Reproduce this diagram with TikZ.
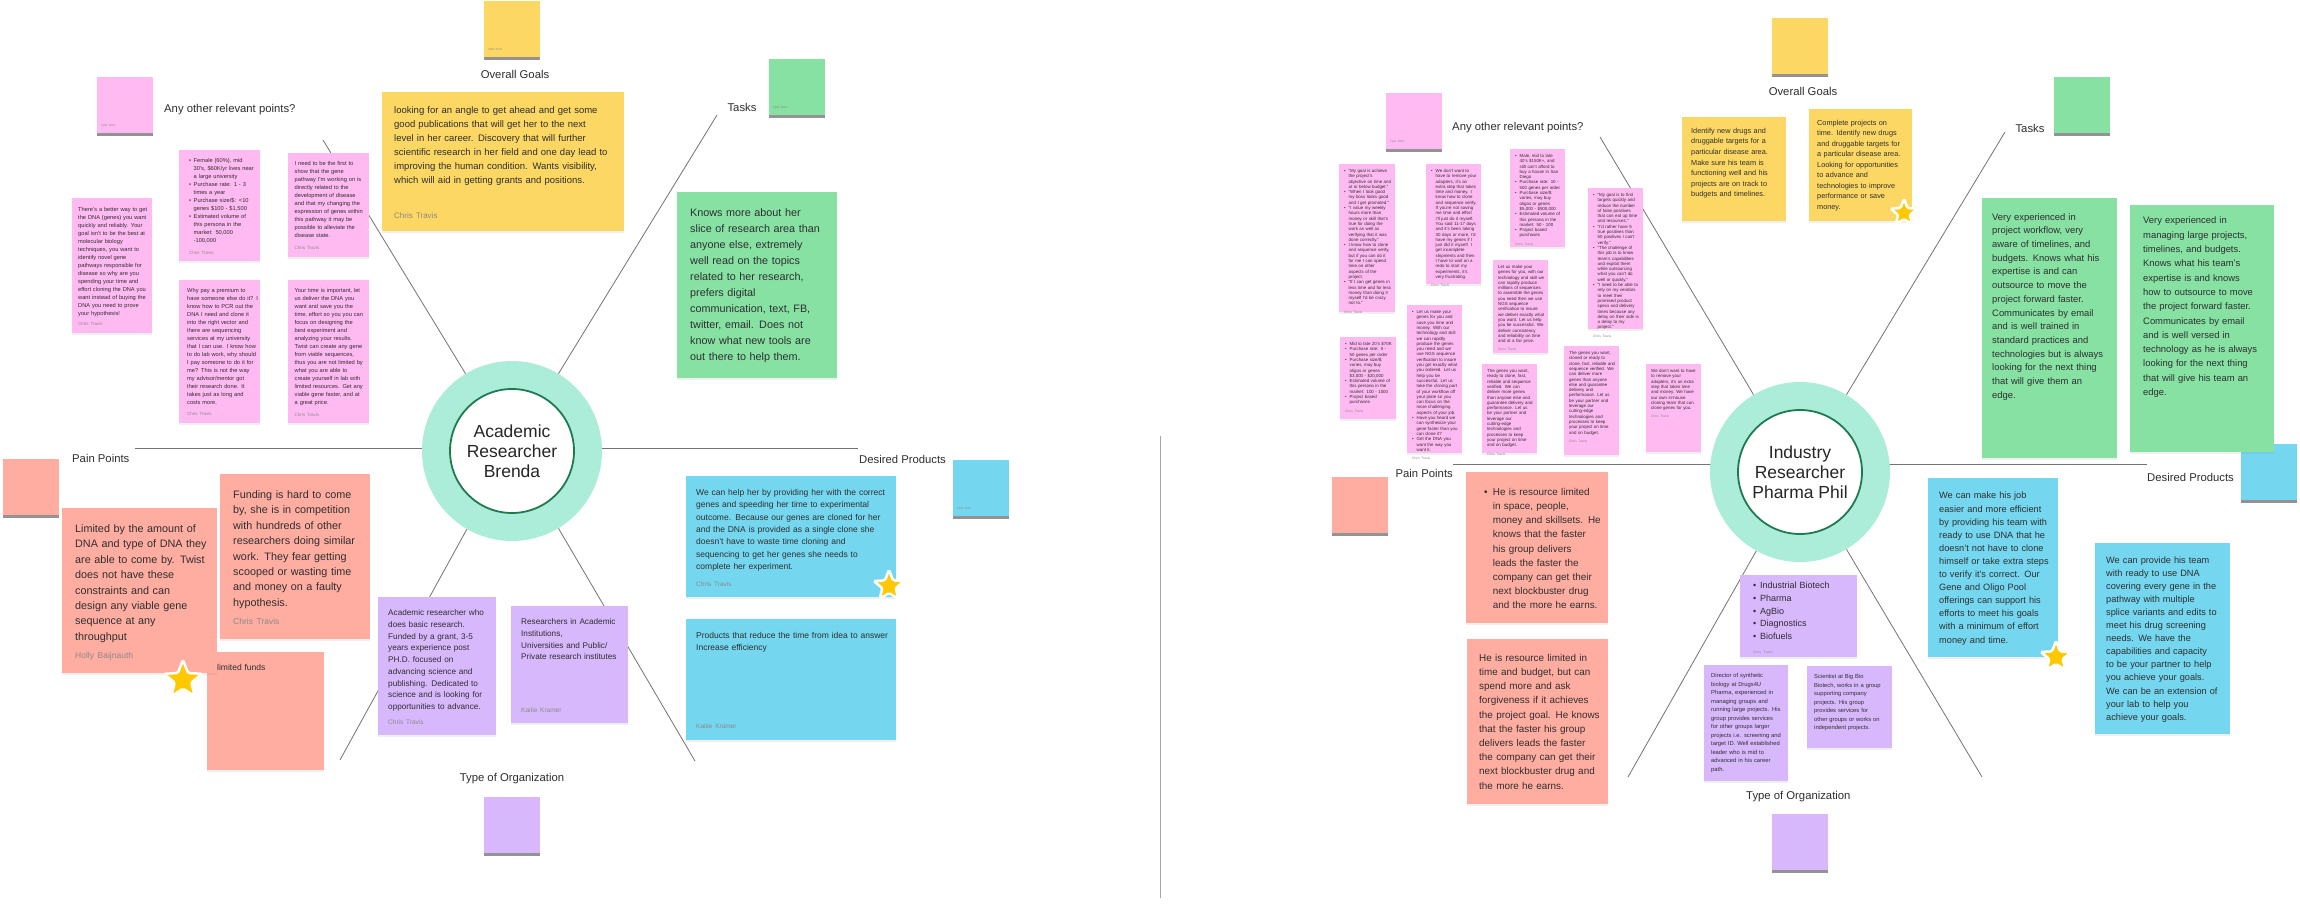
\documentclass[tikz,border=0pt]{standalone}
\usepackage{fontspec}
\setmainfont{Liberation Sans}
\usetikzlibrary{shapes.geometric,shadows,backgrounds}

\definecolor{stickypink}{HTML}{FFBAF1}
\definecolor{stickyyellow}{HTML}{FDD764}
\definecolor{stickygreen}{HTML}{86E1A3}
\definecolor{stickyred}{HTML}{FFADA1}
\definecolor{stickypurple}{HTML}{D8B8FD}
\definecolor{stickyblue}{HTML}{74D7EF}
\definecolor{ringteal}{HTML}{ABEDD8}
\definecolor{ringedge}{HTML}{1F7A50}
\definecolor{inktext}{HTML}{2E2E2E}
\definecolor{authorgray}{HTML}{8A8A8A}
\definecolor{starfill}{HTML}{FFC800}

\newcommand\fs[2]{\fontsize{#1}{#2}\selectfont}
\newcommand\byline[3]{\\[#1pt]{\color{authorgray}\fs{#2}{#2}#3}}
\newcommand\tinyby[2]{\par\vspace{#1pt}{\color{authorgray}\fs{#2}{#2}Chris Travis}}
\newcommand\bul[1]{\makebox[#1pt][l]{\textbullet}}
\newcommand\ind[1]{\hspace*{#1pt}}
\newcommand\tb{\hangindent=4.5pt\hangafter=1\makebox[4.5pt][l]{\textbullet}}

\tikzset{
  sticky/.code n args={4}{%
    \pgfmathsetmacro\stickyd{#2-#4}%
    \tikzset{anchor=north west, inner sep=0pt, align=left, text width=#1pt,
      text height=#4pt, text depth/.expanded=\stickyd pt, text=inktext,
      execute at begin node={\leftskip=#3pt\relax}}},
  wrapright/.style={execute at begin node={\rightskip=#1pt plus 1fil\relax}},
  notebase/.style={drop shadow={shadow xshift=0pt, shadow yshift=-1.5pt, opacity=0.12}},
  pinknote/.style={notebase, fill=stickypink},
  yellownote/.style={notebase, fill=stickyyellow},
  greennote/.style={notebase, fill=stickygreen},
  rednote/.style={notebase, fill=stickyred},
  purplenote/.style={notebase, fill=stickypurple},
  bluenote/.style={notebase, fill=stickyblue},
  swatch/.style={anchor=north west, minimum size=56pt, inner sep=0pt, fill=#1,
    drop shadow={shadow xshift=0pt, shadow yshift=-2.5pt, opacity=0.6, fill=black!70}},
  swatchname/.style={anchor=south west, inner sep=0pt, font=\fs{3}{3}, text=authorgray},
  heading/.style={inner sep=0pt, font=\fs{11.3}{13}, text=inktext},
  ring/.style={circle, minimum size=180pt, inner sep=0pt, fill=ringteal},
  core/.style={circle, minimum size=124pt, inner sep=0pt, fill=white, draw=ringedge,
    line width=1.8pt, align=center, font=\fs{17.5}{20}, text=black!85},
  spoke/.style={draw=black!55, line width=0.8pt},
  favstar/.style={star, star points=5, star point ratio=2.3, minimum size=#1,
    inner sep=0pt, fill=starfill, draw=white, line width=2.5pt, rounded corners=1.5pt,
    drop shadow={shadow xshift=0pt, shadow yshift=-1pt, opacity=0.15}},
}

\begin{document}
\begin{tikzpicture}[x=1pt,y=-1pt]
\useasboundingbox (0,0) rectangle (2300,912);

% ---------------- Academic Researcher Brenda ----------------
\node[ring] (brenda) at (512,451) {};

\node[swatch=stickypink] (anysq) at (97,77) {};
\node[swatchname] at ([shift={(4,-6)}]anysq.south west) {Tyler Soric};
\node[heading, anchor=west] (anylabel) at (164,110) {Any other relevant points?};
\node[swatch=stickyyellow] (goalsq) at (484,1) {};
\node[swatchname] at ([shift={(4,-6)}]goalsq.south west) {Tyler Soric};
\node[heading] (goallabel) at (515,74) {Overall Goals};
\node[swatch=stickygreen] (tasksq) at (769,59) {};
\node[swatchname] at ([shift={(4,-6)}]tasksq.south west) {Tyler Soric};
\node[heading] (tasklabel) at (742,107) {Tasks};
\node[swatch=stickyred] (painsq) at (3,459) {};
\node[heading, anchor=west] (painlabel) at (72,458) {Pain Points};
\node[swatch=stickyblue] (prodsq) at (953,460) {};
\node[swatchname] at ([shift={(4,-6)}]prodsq.south west) {Tyler Soric};
\node[heading, anchor=west] (prodlabel) at (859,459) {Desired Products};
\node[swatch=stickypurple] (orgsq) at (484,797) {};
\node[heading] (orglabel) at (512,779) {Type of Organization};

% other points
\node[pinknote, sticky={80}{135}{6}{13}, font=\fs{5.7}{8}] (brendaA) at (72,198)
  {There's a better way to get\\the DNA (genes) you want\\quickly and reliably. Your\\goal isn't to be the best at\\molecular biology\\techniques, you want to\\identify novel gene\\pathways responsible for\\disease so why are you\\spending your time and\\effort cloning the DNA you\\want instead of buying the\\DNA you need to prove\\your hypothesis!\byline{2.7}{4.5}{Chris Travis}};
\node[pinknote, sticky={81}{111}{10}{12.4}, font=\fs{5.7}{8}] (brendaB) at (179,150)
  {\bul{4.5}Female (60\%), mid\\\ind{4.5}30's, \$60K/yr lives near\\\ind{4.5}a large university\\\bul{4.5}Purchase rate: 1 - 3\\\ind{4.5}times a year\\\bul{4.5}Purchase size/\$: <10\\\ind{4.5}genes \$100 - \$1,500\\\bul{4.5}Estimated volume of\\\ind{4.5}this persona in the\\\ind{4.5}market: 50,000\\\ind{4.5}-100,000\byline{3.7}{4.5}{Chris Travis}};
\node[pinknote, sticky={81}{143}{8}{12.4}, font=\fs{5.7}{8}] (brendaC) at (179,280)
  {Why pay a premium to\\have someone else do it? I\\know how to PCR out the\\DNA I need and clone it\\into the right vector and\\there are sequencing\\services at my university\\that I can use. I know how\\to do lab work, why should\\I pay someone to do it for\\me? This is not the way\\my advisor/mentor got\\their research done. It\\takes just as long and\\costs more.\byline{3}{4.5}{Chris Travis}};
\node[pinknote, sticky={81}{104}{6.5}{12.7}, font=\fs{5.7}{8}] (brendaD) at (288,153)
  {I need to be the first to\\show that the gene\\pathway I'm working on is\\directly related to the\\development of disease\\and that my changing the\\expression of genes within\\this pathway it may be\\possible to alleviate the\\disease state.\byline{3.3}{4.5}{Chris Travis}};
\node[pinknote, sticky={81}{143}{6.5}{12.4}, font=\fs{5.7}{8}] (brendaE) at (288,280)
  {Your time is important, let\\us deliver the DNA you\\want and save you the\\time, effort so you you can\\focus on designing the\\best experiment and\\analyzing your results.\\Twist can create any gene\\from viable sequences,\\thus you are not limited by\\what you are able to\\create yourself in lab with\\limited resources. Get any\\viable gene faster, and at\\a great price.\byline{3.4}{4.5}{Chris Travis}};

% goals and tasks
\node[yellownote, sticky={242}{139}{12}{21}, font=\fs{9.5}{14}] (brendagoal) at (382,92)
  {looking for an angle to get ahead and get some\\good publications that will get her to the next\\level in her career. Discovery that will further\\scientific research in her field and one day lead to\\improving the human condition. Wants visibility,\\which will aid in getting grants and positions.\byline{21}{8}{Chris Travis}};
\node[greennote, sticky={160}{186}{13}{24}, font=\fs{10.8}{16}] (brendatask) at (677,192)
  {Knows more about her\\slice of research area than\\anyone else, extremely\\well read on the topics\\related to her research,\\prefers digital\\communication, text, FB,\\twitter, email. Does not\\know what new tools are\\out there to help them.};

% pain points
\node[rednote, sticky={117}{118}{10}{18.5}, font=\fs{8.5}{11}] (brendafunds) at (207,652)
  {limited funds};
\node[rednote, sticky={155}{165}{13}{24.3}, font=\fs{10.8}{15.4}] (brendalimit) at (62,508)
  {Limited by the amount of\\DNA and type of DNA they\\are able to come by. Twist\\does not have these\\constraints and can\\design any viable gene\\sequence at any\\throughput\byline{2.9}{8.5}{Holly Baijnauth}};
\node[rednote, sticky={150}{165}{13}{24.2}, font=\fs{10.8}{15.4}] (brendafunding) at (220,474)
  {Funding is hard to come\\by, she is in competition\\with hundreds of other\\researchers doing similar\\work. They fear getting\\scooped or wasting time\\and money on a faulty\\hypothesis.\byline{2.9}{8.5}{Chris Travis}};

% type of organization
\node[purplenote, sticky={118}{138}{10}{18.6}, font=\fs{8.2}{11.7}] (brendaorgA) at (378,597)
  {Academic researcher who\\does basic research.\\Funded by a grant, 3-5\\years experience post\\PH.D. focused on\\advancing science and\\publishing. Dedicated to\\science and is looking for\\opportunities to advance.\byline{3.3}{6.5}{Chris Travis}};
\node[purplenote, sticky={117}{117}{10}{18.5}, font=\fs{8.2}{11.7}] (brendaorgB) at (511,606)
  {Researchers in Academic\\Institutions,\\Universities and Public/\\Private research institutes\byline{40.9}{6.5}{Kaitie Kramer}};

% desired products
\node[bluenote, sticky={210}{121}{10}{19.4}, font=\fs{8.5}{12.3}] (brendaprodA) at (686,476)
  {We can help her by providing her with the correct\\genes and speeding her time to experimental\\outcome. Because our genes are cloned for her\\and the DNA is provided as a single clone she\\doesn't have to waste time cloning and\\sequencing to get her genes she needs to\\complete her experiment.\byline{5}{6.5}{Chris Travis}};
\node[bluenote, sticky={210}{121}{10}{19.4}, font=\fs{8.5}{12.3}] (brendaprodB) at (686,619)
  {Products that reduce the time from idea to answer\\Increase efficiency\byline{65.7}{6.5}{Kaitie Kramer}};

\node[core] (brendacore) at (512,451) {Academic\\Researcher\\Brenda};
\node[favstar=40pt] (brendastarA) at (183,680) {};
\node[favstar=32pt] (brendastarB) at (889,586) {};

% ---------------- Industry Researcher Pharma Phil ----------------
\node[ring] (phil) at (1800,472) {};

\node[swatch=stickypink] (anysq2) at (1386,93) {};
\node[swatchname] at ([shift={(4,-6)}]anysq2.south west) {Tyler Soric};
\node[heading, anchor=west] (anylabel2) at (1452,128) {Any other relevant points?};
\node[swatch=stickyyellow] (goalsq2) at (1772,18) {};
\node[heading] (goallabel2) at (1803,91) {Overall Goals};
\node[swatch=stickygreen] (tasksq2) at (2054,77) {};
\node[heading] (tasklabel2) at (2030,128) {Tasks};
\node[swatch=stickyred] (painsq2) at (1332,477) {};
\node[heading, anchor=east] (painlabel2) at (1453,473) {Pain Points};
\node[swatch=stickyblue] (prodsq2) at (2241,444) {};
\node[heading, anchor=west] (prodlabel2) at (2147,477) {Desired Products};
\node[swatch=stickypurple] (orgsq2) at (1772,814) {};
\node[heading, anchor=west] (orglabel2) at (1746,797) {Type of Organization};

% other points
\node[pinknote, sticky={56}{148}{5}{8.3}, wrapright=4, font=\fs{4.4}{5.3}] (philA) at (1339,164)
  {\tb ``My goal is achieve the project's objective on time and at or below budget.''\par
   \tb ``When I look good my boss looks good and I get promoted.''\par
   \tb ``I value my weekly hours more than money or skill that's true for doing the work as well as verifying that it was done correctly.''\par
   \tb I know how to clone and sequence verify, but if you can do it for me I can spend time on other aspects of the project.\par
   \tb ``If I can get genes in less time and for less money than doing it myself I'd be crazy not to.''\tinyby{3}{3.3}};
\node[pinknote, sticky={55}{120}{5}{8.3}, wrapright=4, font=\fs{4.4}{5.3}] (philB) at (1426,164)
  {\tb We don't want to have to remove your adapters, it's an extra step that takes time and money. I know how to clone and sequence verify. If you're not saving me time and effort I'll just do it myself. You said 11-17 days and it's been taking 30 days or more, I'd have my genes if I just did it myself. I get incomplete shipments and then I have to wait on a redo to start my experiments, it's very frustrating.\tinyby{3}{3.3}};
\node[pinknote, sticky={55}{98}{5}{8.3}, wrapright=4, font=\fs{4.4}{5.3}] (philC) at (1510,149)
  {\tb Male, mid to late 40's \$150K+, and still can't afford to buy a house in San Diego\par
   \tb Purchase rate: 10 - 500 genes per order\par
   \tb Purchase size/\$: varies, may buy oligos or genes \$5,000 - \$500,000\par
   \tb Estimated volume of this persona in the market: 50 - 100\par
   \tb Project based purchases\tinyby{3}{3.3}};
\node[pinknote, sticky={55}{141}{5}{8.3}, wrapright=4, font=\fs{4.4}{5.3}] (philD) at (1588,188)
  {\tb ``My goal is to find targets quickly and reduce the number of false positives that can eat up time and resources.''\par
   \tb ``I'd rather have 5 true positives than 50 positives I can't verify.''\par
   \tb ``The challenge of this job is to know team's capabilities and exploit them while outsourcing what you can't do well or quickly.''\par
   \tb ``I need to be able to rely on my vendors to meet their promised product specs and delivery times because any delay on their side is a delay to my project.''\tinyby{3}{3.3}};
\node[pinknote, sticky={55}{93}{5}{8.3}, wrapright=4, font=\fs{4.4}{5.3}] (philE) at (1493,260)
  {Let us make your genes for you, with our technology and skill we can rapidly produce millions of sequences to assemble the genes you need then we use NGS sequence verification to insure we deliver exactly what you want. Let us help you be successful. We deliver consistency and reliability on time and at a fair price.\tinyby{3}{3.3}};
\node[pinknote, sticky={56}{82}{5}{8.3}, wrapright=4, font=\fs{4.4}{5.3}] (philF) at (1340,337)
  {\tb Mid to late 20's \$70K\par
   \tb Purchase rate: 5 - 50 genes per order\par
   \tb Purchase size/\$: varies, may buy oligos or genes \$3,000 - \$20,000\par
   \tb Estimated volume of this persona in the market: 100 - 1000\par
   \tb Project based purchases\tinyby{3}{3.3}};
\node[pinknote, sticky={55}{148}{5}{8.3}, wrapright=4, font=\fs{4.4}{5.3}] (philG) at (1407,305)
  {\tb Let us make your genes for you and save you time and money. With our technology and skill we can rapidly produce the genes you need and we use NGS sequence verification to insure you get exactly what you ordered. Let us help you be successful. Let us take the cloning part of your workflow off your plate so you can focus on the more challenging aspects of your job.\par
   \tb Have you heard we can synthesize your gene faster than you can clone it?\par
   \tb Get the DNA you want the way you want it.\tinyby{3}{3.3}};
\node[pinknote, sticky={55}{89}{5}{8.3}, wrapright=4, font=\fs{4.4}{5.3}] (philH) at (1482,364)
  {The genes you want, ready to clone, fast, reliable and sequence verified. We can deliver more genes than anyone else and guarantee delivery and performance. Let us be your partner and leverage our cutting-edge technologies and processes to keep your project on time and on budget.\tinyby{3}{3.3}};
\node[pinknote, sticky={55}{109}{5}{8.3}, wrapright=4, font=\fs{4.4}{5.3}] (philI) at (1564,346)
  {The genes you want, cloned or ready to clone, fast, reliable and sequence verified. We can deliver more genes than anyone else and guarantee delivery and performance. Let us be your partner and leverage our cutting-edge technologies and processes to keep your project on time and on budget.\tinyby{3}{3.3}};
\node[pinknote, sticky={55}{88}{5}{8.3}, wrapright=4, font=\fs{4.4}{5.3}] (philJ) at (1646,364)
  {We don't want to have to remove your adapters, it's an extra step that takes time and money. We have our own in-house cloning team that can clone genes for you.\tinyby{3}{3.3}};

% goals and tasks
\node[yellownote, sticky={104}{104}{9}{16.1}, font=\fs{7.3}{10.6}] (philgoalA) at (1682,117)
  {Identify new drugs and\\druggable targets for a\\particular disease area.\\Make sure his team is\\functioning well and his\\projects are on track to\\budgets and timelines.};
\node[yellownote, sticky={103}{112}{8}{16.2}, font=\fs{7.3}{10.5}] (philgoalB) at (1809,109)
  {Complete projects on\\time. Identify new drugs\\and druggable targets for\\a particular disease area.\\Looking for opportunities\\to advance and\\technologies to improve\\performance or save\\money.};
\node[greennote, sticky={135}{260}{10}{21.9}, font=\fs{9.4}{13.7}] (philtaskA) at (1982,198)
  {Very experienced in\\project workflow, very\\aware of timelines, and\\budgets. Knows what his\\expertise is and can\\outsource to move the\\project forward faster.\\Communicates by email\\and is well trained in\\standard practices and\\technologies but is always\\looking for the next thing\\that will give them an\\edge.};
\node[greennote, sticky={144}{247}{13}{18.8}, font=\fs{9.4}{14.3}] (philtaskB) at (2130,205)
  {Very experienced in\\managing large projects,\\timelines, and budgets.\\Knows what his team's\\expertise is and knows\\how to outsource to move\\the project forward faster.\\Communicates by email\\and is well versed in\\technology as he is always\\looking for the next thing\\that will give his team an\\edge.};

% pain points
\node[rednote, sticky={142}{151}{18}{23}, font=\fs{9.9}{14.2}] (philpainA) at (1466,472)
  {\bul{8.7}He is resource limited\\\ind{8.7}in space, people,\\\ind{8.7}money and skillsets. He\\\ind{8.7}knows that the faster\\\ind{8.7}his group delivers\\\ind{8.7}leads the faster the\\\ind{8.7}company can get their\\\ind{8.7}next blockbuster drug\\\ind{8.7}and the more he earns.};
\node[rednote, sticky={141}{165}{12}{22}, font=\fs{9.9}{14.2}] (philpainB) at (1467,639)
  {He is resource limited in\\time and budget, but can\\spend more and ask\\forgiveness if it achieves\\the project goal. He knows\\that the faster his group\\delivers leads the faster\\the company can get their\\next blockbuster drug and\\the more he earns.};

% type of organization
\node[purplenote, sticky={117}{82}{13}{13.7}, font=\fs{9}{12.6}] (philorgA) at (1740,575)
  {\bul{7}Industrial Biotech\\\bul{7}Pharma\\\bul{7}AgBio\\\bul{7}Diagnostics\\\bul{7}Biofuels\byline{1.4}{3.3}{Chris Travis}};
\node[purplenote, sticky={84}{116}{7}{12.7}, font=\fs{5.8}{8.5}] (philorgB) at (1704,665)
  {Director of synthetic\\biology at Drugs4U\\Pharma, experienced in\\managing groups and\\running large projects. His\\group provides services\\for other groups larger\\projects i.e. screening and\\target ID. Well established\\leader who is mid to\\advanced in his career\\path.};
\node[purplenote, sticky={85}{82}{7}{12.7}, font=\fs{5.8}{8.5}] (philorgC) at (1807,666)
  {Scientist at Big Bio\\Biotech, works in a group\\supporting company\\projects. His group\\provides services for\\other groups or works on\\independent projects.};

% desired products
\node[bluenote, sticky={130}{179}{11}{20.7}, font=\fs{9.2}{13.1}] (philprodA) at (1928,478)
  {We can make his job\\easier and more efficient\\by providing his team with\\ready to use DNA that he\\doesn't not have to clone\\himself or take extra steps\\to verify it's correct. Our\\Gene and Oligo Pool\\offerings can support his\\efforts to meet his goals\\with a minimum of effort\\money and time.};
\node[bluenote, sticky={135}{191}{11}{19.8}, font=\fs{9.2}{13.1}] (philprodB) at (2095,543)
  {We can provide his team\\with ready to use DNA\\covering every gene in the\\pathway with multiple\\splice variants and edits to\\meet his drug screening\\needs. We have the\\capabilities and capacity\\to be your partner to help\\you achieve your goals.\\We can be an extension of\\your lab to help you\\achieve your goals.};

\node[core] (philcore) at (1800,472) {Industry\\Researcher\\Pharma Phil};
\node[favstar=28pt] (philstarA) at (1904,213) {};
\node[favstar=32pt] (philstarB) at (2056,657) {};

% ---------------- connectors ----------------
\coordinate (anyend) at (323,140);
\coordinate (taskend) at (717,115);
\coordinate (painend) at (135,448);
\coordinate (prodend) at (858,448);
\coordinate (orgleft) at (340,760);
\coordinate (orgright) at (695,761);
\coordinate (anyend2) at (1600,137);
\coordinate (taskend2) at (2005,132);
\coordinate (painend2) at (1453,464);
\coordinate (prodend2) at (2147,464);
\coordinate (orgleft2) at (1628,777);
\coordinate (orgright2) at (1982,777);
\coordinate (splittop) at (1160,436);
\coordinate (splitbottom) at (1160,898);

\begin{scope}[on background layer]
\fill[white] (0,0) rectangle (2300,912);
\draw[spoke] (anyend) -- (brenda.121);
\draw[spoke] (taskend) -- (brenda.59);
\draw[spoke] (orgleft) -- (brenda.-120);
\draw[spoke] (orgright) -- (brenda.-59);
\draw[spoke] (painend) -- (prodend);
\draw[spoke] (anyend2) -- (phil.121);
\draw[spoke] (taskend2) -- (phil.59);
\draw[spoke] (orgleft2) -- (phil.-119);
\draw[spoke] (orgright2) -- (phil.-59);
\draw[spoke] (painend2) -- (prodend2);
\draw[spoke, draw=black!35] (splittop) -- (splitbottom);
\end{scope}
\end{tikzpicture}
\end{document}
